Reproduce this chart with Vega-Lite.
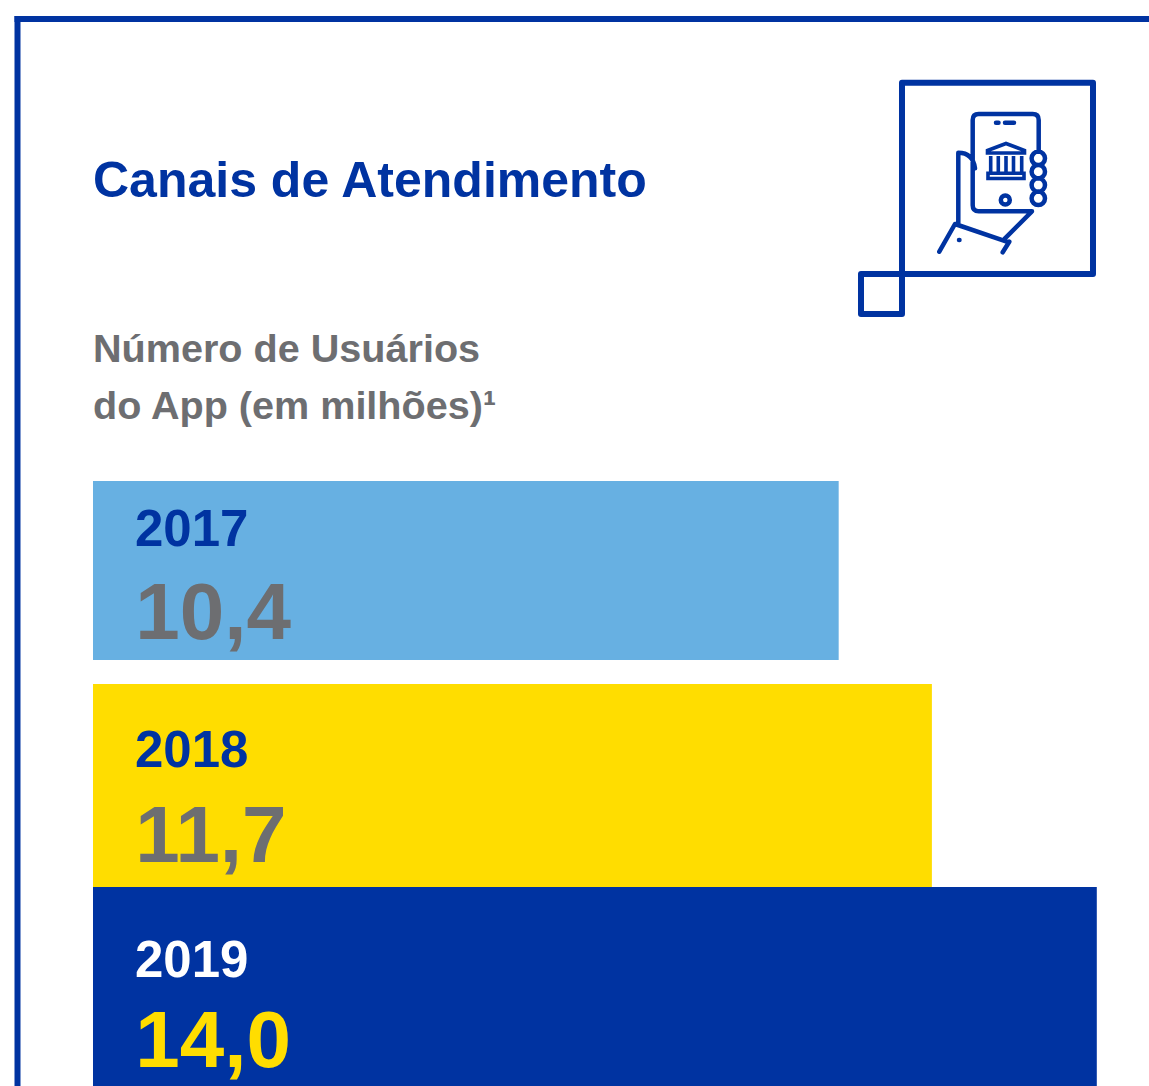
{
"$schema":"https://vega.github.io/schema/vega-lite/v6.json",
"width":1149,"height":1086,"padding":0,"autosize":{"type":"none"},"background":"#ffffff",
"config":{"view":{"stroke":null},"text":{"font":"Liberation Sans","fontWeight":"bold"}},
"data":{"values":[
{"ano":"2017","usuarios":10.4,"rotulo":"10,4"},
{"ano":"2018","usuarios":11.7,"rotulo":"11,7"},
{"ano":"2019","usuarios":14.0,"rotulo":"14,0"}]},
"resolve":{"scale":{"y":"independent"}},
"layer":[
{"layer":[
{"transform":[{"filter":"datum.ano != '2017'"}],
"mark":{"type":"bar","height":203},
"encoding":{"x":{"field":"usuarios","type":"quantitative","axis":null,"scale":{"domain":[-1.29707,14.72803],"nice":false,"zero":false}},
"y":{"field":"ano","type":"nominal","axis":null,"sort":["2017","2018","2019"],"scale":{"range":[481,1090],"paddingInner":0,"paddingOuter":0}},
"color":{"field":"ano","type":"nominal","legend":null,"scale":{"domain":["2017","2018","2019"],"range":["#67b0e2","#ffdd00","#0033a1"]}}}},
{"transform":[{"filter":"datum.ano == '2017'"}],
"mark":{"type":"bar","height":179,"yOffset":-12},
"encoding":{"x":{"field":"usuarios","type":"quantitative"},
"y":{"field":"ano","type":"nominal","sort":["2017","2018","2019"]},
"color":{"field":"ano","type":"nominal","legend":null}}},
{"mark":{"type":"text","align":"left","baseline":"alphabetic","fontSize":51,"dy":{"expr":"datum.ano=='2017'?65:datum.ano=='2018'?83:90"}},
"encoding":{"x":{"datum":0.585},"y":{"field":"ano","type":"nominal","sort":["2017","2018","2019"],"bandPosition":0},
"text":{"field":"ano"},
"color":{"condition":{"test":"datum.ano=='2019'","value":"#ffffff"},"value":"#0033a1"}}},
{"mark":{"type":"text","align":"left","baseline":"alphabetic","fontSize":80,"dy":{"expr":"datum.ano=='2017'?158:datum.ano=='2018'?178:180"}},
"encoding":{"x":{"datum":0.59},"y":{"field":"ano","type":"nominal","sort":["2017","2018","2019"],"bandPosition":0},
"text":{"field":"rotulo"},
"color":{"condition":{"test":"datum.ano=='2019'","value":"#ffdd00"},"value":"#6d6e71"}}}
]},
{"data":{"values":[{}]},"layer":[
{"mark":{"type":"rule","color":"#0033a1","strokeWidth":6,"strokeCap":"square"},
"encoding":{"x":{"datum":-1.053},"y":{"datum":19,"type":"quantitative","axis":null,"scale":{"domain":[1086,0],"nice":false,"zero":false}},"y2":{"datum":1086}}},
{"mark":{"type":"rule","color":"#0033a1","strokeWidth":6,"strokeCap":"square"},
"encoding":{"x":{"datum":-1.053},"x2":{"datum":14.728},"y":{"datum":19,"type":"quantitative"}}},
{"mark":{"type":"text","align":"left","baseline":"alphabetic","fontSize":50,"color":"#0033a1","text":"Canais de Atendimento"},
"encoding":{"x":{"datum":0},"y":{"datum":197,"type":"quantitative"}}},
{"mark":{"type":"text","align":"left","baseline":"alphabetic","fontSize":39.6,"lineHeight":57,"color":"#6d6e71","text":["Número de Usuários","do App (em milhões)¹"]},
"encoding":{"x":{"datum":0},"y":{"datum":362,"type":"quantitative"}}},
{"mark":{"type":"point","filled":false,"opacity":1,"size":4,"color":"#0033a1","strokeWidth":6,"strokeJoin":"round",
"shape":"M-98,-117.3H93V74H-98ZM-139,74H-98V114H-139Z"},
"encoding":{"x":{"datum":12.6499},"y":{"datum":200,"type":"quantitative"}}},
{"mark":{"type":"point","filled":false,"opacity":1,"size":4,"color":"#0033a1","strokeWidth":4.5,"strokeJoin":"round","strokeCap":"round",
"shape":"M38.7,-48.3V-80Q38.7,-86 32.7,-86H-21.3Q-27.3,-86 -27.3,-80V5.3Q-27.3,11.3 -21.3,11.3H32M31.6,-41.7a6.7,6.7 0 1,0 13.4,0a6.7,6.7 0 1,0 -13.4,0M31.6,-28.3a6.7,6.7 0 1,0 13.4,0a6.7,6.7 0 1,0 -13.4,0M31.6,-15a6.7,6.7 0 1,0 13.4,0a6.7,6.7 0 1,0 -13.4,0M31.6,-1.7a6.7,6.7 0 1,0 13.4,0a6.7,6.7 0 1,0 -13.4,0M-4,-77.3H-1.5M5,-77.3H14M0.8,0a4.5,4.5 0 1,0 9,0a4.5,4.5 0 1,0 -9,0M-41.7,-47.3V23.3M-41.7,-47.3Q-27,-47.3 -25,-31.7M-45,24L6.7,41.7M-45,24L-60.7,51.7M9.3,41.7L2.7,52.3M5,38.3L31.7,11.7M-41,40H-40.5"},
"encoding":{"x":{"datum":12.6499},"y":{"datum":200,"type":"quantitative"}}},
{"mark":{"type":"point","filled":false,"opacity":1,"size":4,"color":"#0033a1","strokeWidth":3.6,"strokeJoin":"miter",
"shape":"M-12.5,-49.5L6,-56.5L24.5,-49.5V-47H-12.5ZM-9.3,-44V-28.5M-1.7,-44V-28.5M6,-44V-28.5M13.5,-44V-28.5M21.7,-44V-28.5M-12,-26.8H24V-21.5H-12Z"},
"encoding":{"x":{"datum":12.6499},"y":{"datum":200,"type":"quantitative"}}}
]}
]}
